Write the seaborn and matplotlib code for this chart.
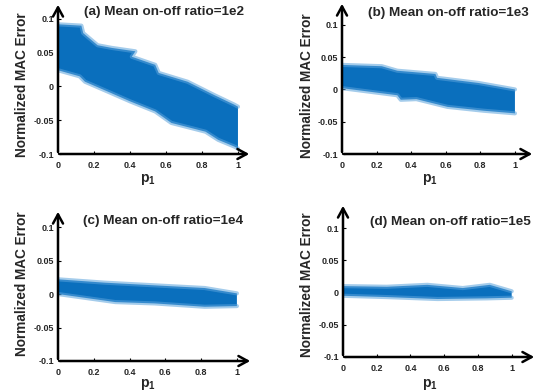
import matplotlib
matplotlib.use("Agg")
import matplotlib.pyplot as plt
import seaborn as sns
import pandas as pd

sns.set_theme(style="white")
plt.rcParams['font.family'] = ['Liberation Sans', 'DejaVu Sans']
plt.rcParams['font.weight'] = 'bold'
plt.rcParams['mathtext.fontset'] = 'custom'
plt.rcParams['mathtext.rm'] = 'Liberation Sans:bold'
plt.rcParams['mathtext.bf'] = 'Liberation Sans:bold'
plt.rcParams['mathtext.it'] = 'Liberation Sans:bold'

titles = ["(a) Mean on-off ratio=1e2", "(b) Mean on-off ratio=1e3",
          "(c) Mean on-off ratio=1e4", "(d) Mean on-off ratio=1e5"]

# Band envelopes: upper edge and lower edge (p1, error)
a_up_x = [0.0, 0.13, 0.14, 0.22, 0.30, 0.43, 0.41, 0.54, 0.56, 0.72, 0.87, 0.98, 1.0]
a_up_y = [0.092, 0.090, 0.079, 0.061, 0.057, 0.052, 0.044, 0.032, 0.020, 0.007, -0.013, -0.027, -0.030]
a_lo_x = [0.0, 0.12, 0.15, 0.28, 0.40, 0.54, 0.63, 0.82, 0.89, 0.98, 1.0]
a_lo_y = [0.024, 0.015, 0.007, -0.008, -0.022, -0.037, -0.054, -0.067, -0.079, -0.089, -0.092]

b_up_x = [0.0, 0.23, 0.32, 0.54, 0.55, 0.79, 1.0]
b_up_y = [0.038, 0.036, 0.029, 0.024, 0.018, 0.010, 0.000]
b_lo_x = [0.0, 0.32, 0.34, 0.43, 0.61, 0.82, 1.0]
b_lo_y = [0.002, -0.009, -0.016, -0.015, -0.027, -0.033, -0.037]

c_up_x = [0.0, 0.26, 0.54, 0.82, 1.0]
c_up_y = [0.022, 0.017, 0.013, 0.009, 0.001]
c_lo_x = [0.0, 0.32, 0.54, 0.82, 1.0]
c_lo_y = [0.000, -0.012, -0.014, -0.019, -0.018]

d_up_x = [0.0, 0.26, 0.50, 0.71, 0.87, 1.0]
d_up_y = [0.010, 0.009, 0.012, 0.007, 0.012, 0.002]
d_lo_x = [0.0, 0.26, 0.56, 0.85, 1.0]
d_lo_y = [-0.005, -0.007, -0.010, -0.009, -0.008]

xticks = [0, 0.2, 0.4, 0.6, 0.8, 1]
xtick_labels = ["0", "0.2", "0.4", "0.6", "0.8", "1"]
yticks = [-0.1, -0.05, 0, 0.05, 0.1]
ytick_labels = ["-0.1", "-0.05", "0", "0.05", "0.1"]

W, H = 544, 392
fig = plt.figure(figsize=(W / 100, H / 100), dpi=100)

bands = [(a_up_x, a_up_y, a_lo_x, a_lo_y), (b_up_x, b_up_y, b_lo_x, b_lo_y),
         (c_up_x, c_up_y, c_lo_x, c_lo_y), (d_up_x, d_up_y, d_lo_x, d_lo_y)]
layout = [
    ((58, 252, 2, 154), (0, 1.078), (-0.1, 0.125), (164, 12), (22, 85), (148, 180)),
    ((342, 535, 1, 154), (0, 1.116), (-0.1, 0.137), (448, 13), (307, 86), (430, 180)),
    ((58, 253, 209, 361), (0, 1.09), (-0.1, 0.127), (163, 221), (22, 284), (148, 384)),
    ((343, 537, 203, 357), (0, 1.15), (-0.1, 0.139), (450, 222), (307, 285), (430, 384)),
]

blue = '#0a6fbd'
edge = '#5aa2db'

for i, ((ux, uy, lx, ly), ((l, r, t, b), xl, yl, tpos, ypos, xpos)) in enumerate(zip(bands, layout)):
    ax = fig.add_axes([l / W, 1 - b / H, (r - l) / W, (b - t) / H])
    ax.fill(ux + lx[::-1], uy + ly[::-1], color=blue, lw=0)
    df = pd.DataFrame({"p1": ux + lx, "err": uy + ly,
                       "edge": ["upper"] * len(ux) + ["lower"] * len(lx)})
    sns.lineplot(data=df, x="p1", y="err", units="edge", estimator=None, sort=False,
                 color=edge, lw=3, alpha=0.55, ax=ax)
    ax.set_xlim(*xl)
    ax.set_ylim(*yl)
    ax.set_xticks(xticks)
    ax.set_xticklabels(xtick_labels)
    ax.set_yticks(yticks)
    ax.set_yticklabels(ytick_labels)
    ax.tick_params(axis='both', direction='in', length=2.5, width=0.8, color='black',
                   labelsize=6.5, labelcolor='#262626')
    ax.tick_params(axis='x', pad=5)
    ax.tick_params(axis='y', pad=3)
    ax.xaxis.set_ticks_position('bottom')
    ax.yaxis.set_ticks_position('left')
    for lab in ax.get_xticklabels() + ax.get_yticklabels():
        lab.set_fontweight('bold')
    ax.set_xlabel("")
    ax.set_ylabel("")
    for s in ax.spines.values():
        s.set_visible(False)
    ax.patch.set_alpha(0)
    ax.annotate('', xy=(1, 0), xytext=(-0.005, 0), xycoords='axes fraction',
                arrowprops=dict(arrowstyle='->,head_length=0.55,head_width=0.3', lw=1.8, color='black'),
                annotation_clip=False)
    ax.annotate('', xy=(0, 1), xytext=(0, -0.005), xycoords='axes fraction',
                arrowprops=dict(arrowstyle='->,head_length=0.55,head_width=0.3', lw=1.8, color='black'),
                annotation_clip=False)
    fig.text(tpos[0] / W, 1 - tpos[1] / H, titles[i], ha='center', va='center',
             fontsize=9.7, fontweight='bold')
    fig.text(ypos[0] / W, 1 - ypos[1] / H, "Normalized MAC Error", ha='center', va='center',
             rotation=90, fontsize=9.8, fontweight='bold')
    fig.text(xpos[0] / W, 1 - xpos[1] / H, r"$\mathbf{p_1}$", ha='center', va='center',
             fontsize=10)

fig.savefig("out.png", dpi=100)
